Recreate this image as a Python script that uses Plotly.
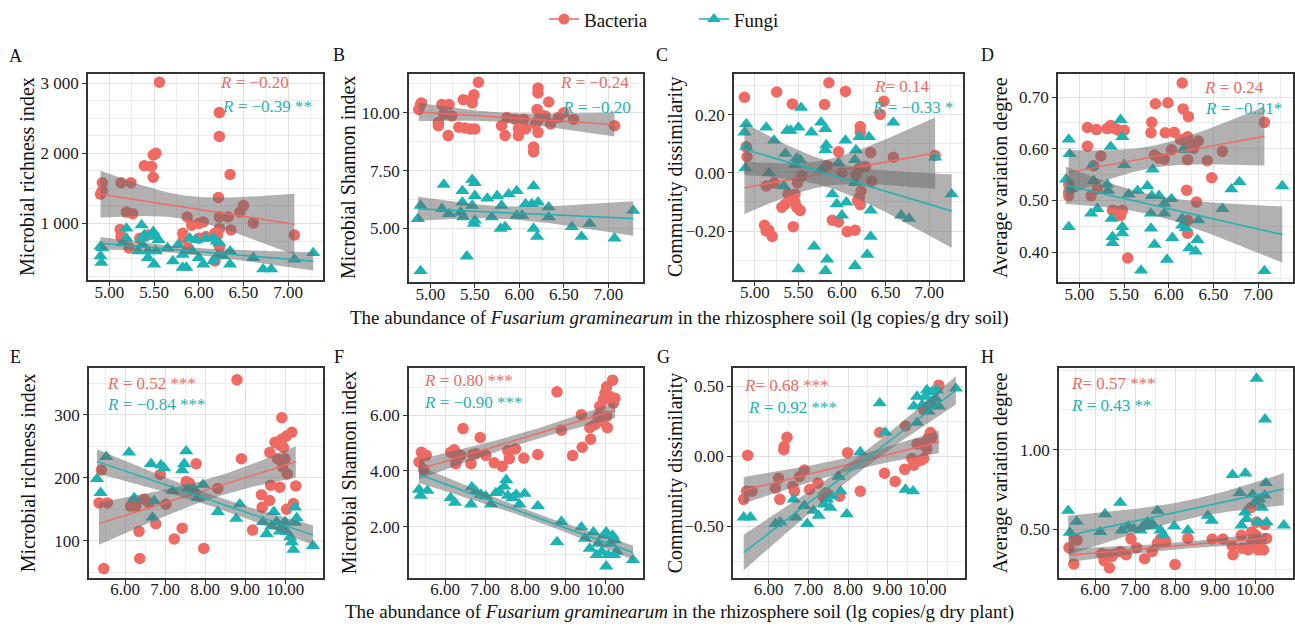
import numpy as np
import plotly.graph_objects as go

W, H = 1295, 628
FONT = "Liberation Serif"
RED = "#EF6A63"
TEAL = "#1DB2B3"

# ---------------- data ----------------
# Panel A: Microbial richness index vs F. graminearum in soil
A_bac_x = [4.90, 4.92, 4.92, 5.13, 5.24, 5.19, 5.26, 5.12, 5.13, 5.22, 5.39, 5.47, 5.49, 5.52, 5.49, 5.56, 5.43, 5.34,
           5.82, 5.83, 5.87, 5.92, 6.00, 6.05, 5.88, 6.00, 6.08, 6.23, 6.23, 6.22, 6.23, 6.23, 6.21, 6.18, 6.23, 6.18,
           6.35, 6.33, 6.36, 6.46, 6.50, 6.61, 7.07]
A_bac_y = [1419, 1465, 1581, 1581, 1581, 1163, 1140, 916, 814, 651, 1823, 1814, 1977, 2000, 1660, 3014, 837, 790,
           860, 790, 1093, 977, 1000, 1023, 651, 790, 814, 2581, 2242, 1372, 1093, 930, 837, 860, 674, 465,
           1698, 1093, 907, 1163, 1256, 1009, 837]
A_fun_x = [4.90, 4.90, 4.91, 4.92, 5.19, 5.19, 5.15, 5.36, 5.39, 5.36, 5.37, 5.32, 5.43, 5.49, 5.50, 5.55, 5.52, 5.50,
           5.43, 5.65, 5.71, 5.77, 5.82, 5.86, 5.82, 5.90, 5.97, 5.93, 6.00, 6.05, 6.08, 6.16, 6.20, 6.23, 6.16, 6.21,
           6.27, 6.35, 6.35, 6.61, 6.72, 6.81, 7.07, 7.28]
A_fun_y = [674, 535, 442, 651, 930, 790, 721, 977, 837, 790, 698, 605, 605, 884, 814, 767, 605, 419,
           512, 651, 465, 698, 558, 372, 372, 790, 767, 605, 512, 419, 790, 790, 744, 721, 465, 535,
           535, 605, 419, 512, 349, 349, 488, 581]

# Panel B: Microbial Shannon index
B_bac_x = [4.87, 4.89, 4.90, 5.09, 5.09, 5.13, 5.21, 5.15, 5.24, 5.20, 5.32, 5.39, 5.45, 5.50, 5.37, 5.47, 5.49, 5.47,
           5.54, 5.80, 5.84, 5.86, 5.95, 5.99, 5.99, 6.05, 6.07, 6.21, 6.21, 6.20, 6.18, 6.21, 6.23, 6.21, 6.16, 6.16,
           6.29, 6.35, 6.33, 6.44, 6.50, 6.61, 7.07]
B_bac_y = [10.14, 10.35, 10.42, 9.44, 9.58, 10.35, 10.35, 9.93, 9.86, 9.01, 9.37, 9.34, 9.30, 9.30, 10.56, 10.61, 10.77, 10.42,
           11.31, 9.44, 9.01, 9.79, 9.72, 9.30, 9.01, 9.72, 9.30, 11.06, 10.85, 10.14, 9.51, 9.65, 9.93, 9.15, 8.52, 8.31,
           9.86, 9.51, 10.46, 9.79, 10.00, 9.72, 9.44]
B_fun_x = [4.89, 4.86, 4.89, 5.15, 5.13, 5.21, 5.36, 5.36, 5.34, 5.37, 5.41, 5.47, 5.50, 5.50, 5.47, 5.49, 5.50, 5.64,
           5.69, 5.75, 5.80, 5.79, 5.84, 5.88, 5.97, 5.97, 6.03, 6.07, 6.16, 6.14, 6.21, 6.16, 6.20, 6.33, 6.33, 6.59,
           6.70, 6.79, 7.07, 7.28]
B_fun_y = [5.99, 5.42, 3.17, 6.90, 5.85, 5.63, 6.62, 6.13, 5.70, 5.49, 3.80, 7.11, 6.97, 6.41, 5.99, 5.21, 5.35, 6.30,
           5.49, 6.41, 5.99, 5.00, 5.07, 6.48, 6.62, 5.56, 5.56, 6.06, 6.83, 6.06, 6.13, 5.00, 4.65, 5.92, 5.49, 5.07,
           4.65, 5.21, 4.58, 5.77]

# Panel C: Community dissimilarity
C_bac_x = [4.88, 4.90, 4.91, 5.13, 5.22, 5.11, 5.13, 5.16, 5.20, 5.25, 5.31, 5.35, 5.38, 5.46, 5.46, 5.48, 5.52, 5.49,
           5.54, 5.43, 5.44, 5.80, 5.85, 5.83, 5.89, 5.96, 5.96, 6.00, 6.04, 6.06, 6.15, 6.16, 6.20, 6.21, 6.21, 6.22,
           6.18, 6.21, 6.20, 6.27, 6.33, 6.34, 6.44, 6.48, 6.59, 7.07]
C_bac_y = [0.261, 0.090, 0.056, -0.045, -0.034, -0.180, -0.200, -0.197, -0.219, 0.279, -0.118, -0.107, -0.073, -0.073,
           -0.101, -0.118, -0.129, -0.034, -0.009, 0.238, -0.185, 0.236, 0.311, 0.025, -0.163, -0.169, 0.073, 0.000,
           0.281, -0.202, -0.197, -0.006, 0.017, 0.160, 0.140, -0.062, -0.096, -0.109, -0.084, 0.022, 0.070, -0.028,
           0.202, 0.247, 0.054, 0.060]
C_fun_x = [4.90, 4.88, 4.90, 4.89, 5.13, 5.16, 5.22, 5.33, 5.35, 5.37, 5.41, 5.50, 5.53, 5.48, 5.52, 5.46, 5.50, 5.65,
           5.68, 5.76, 5.81, 5.82, 5.81, 5.81, 5.83, 5.76, 5.89, 5.96, 5.94, 6.00, 6.04, 6.05, 6.15, 6.16, 6.15, 6.15,
           6.20, 6.31, 6.33, 6.33, 6.29, 6.59, 6.68, 6.77, 7.07, 7.26]
C_fun_y = [0.169, 0.140, 0.090, 0.017, 0.157, 0.000, 0.112, -0.045, 0.067, 0.146, 0.146, 0.157, 0.225, 0.051, 0.045,
           0.028, -0.331, 0.140, -0.253, 0.174, 0.152, 0.096, 0.079, -0.337, -0.298, 0.011, -0.073, 0.034, -0.107,
           -0.146, 0.112, -0.101, 0.045, 0.079, -0.034, -0.320, 0.124, 0.124, -0.129, -0.219, -0.281, 0.174, -0.146,
           -0.157, 0.054, -0.073]

# Panel D: Average variation degree
D_bac_x = [4.88, 4.88, 4.88, 5.09, 5.09, 5.13, 5.16, 5.19, 5.24, 5.20, 5.31, 5.35, 5.40, 5.44, 5.50, 5.37, 5.42, 5.46,
           5.48, 5.54, 5.80, 5.81, 5.85, 5.84, 5.89, 5.95, 5.96, 5.99, 6.03, 6.06, 6.15, 6.16, 6.22, 6.13, 6.19, 6.21,
           6.23, 6.21, 6.20, 6.21, 6.21, 6.28, 6.33, 6.31, 6.43, 6.48, 6.60, 7.07]
D_bac_y = [0.531, 0.516, 0.509, 0.641, 0.605, 0.509, 0.567, 0.637, 0.586, 0.523, 0.639, 0.645, 0.639, 0.636, 0.636,
           0.481, 0.479, 0.471, 0.481, 0.389, 0.631, 0.651, 0.687, 0.588, 0.582, 0.580, 0.631, 0.689, 0.598, 0.632,
           0.727, 0.677, 0.662, 0.618, 0.617, 0.623, 0.610, 0.579, 0.520, 0.462, 0.437, 0.601, 0.615, 0.497, 0.577,
           0.544, 0.595, 0.651]
D_fun_x = [4.88, 4.89, 4.85, 4.88, 4.90, 5.13, 5.14, 5.16, 5.20, 5.31, 5.32, 5.35, 5.36, 5.37, 5.37, 5.46, 5.48, 5.50,
           5.48, 5.48, 5.55, 5.65, 5.69, 5.76, 5.82, 5.80, 5.80, 5.84, 5.81, 5.89, 5.95, 5.95, 5.98, 6.03, 6.04, 6.15,
           6.16, 6.15, 6.19, 6.23, 6.30, 6.32, 6.33, 6.60, 6.70, 6.79, 7.07, 7.27]
D_fun_y = [0.618, 0.590, 0.541, 0.449, 0.522, 0.475, 0.566, 0.538, 0.484, 0.531, 0.519, 0.604, 0.465, 0.430, 0.418,
           0.656, 0.623, 0.569, 0.449, 0.437, 0.512, 0.519, 0.365, 0.528, 0.560, 0.475, 0.446, 0.415, 0.509, 0.509,
           0.494, 0.475, 0.386, 0.503, 0.428, 0.465, 0.598, 0.452, 0.447, 0.408, 0.402, 0.424, 0.462, 0.484, 0.522,
           0.536, 0.364, 0.528]

# Panel E: Microbial richness index vs F. graminearum in plant
E_bac_x = [5.35, 5.41, 5.56, 5.47, 6.14, 6.27, 6.35, 6.37, 6.48, 6.60, 6.77, 6.88, 7.02, 7.23, 7.43, 7.53, 7.61, 7.78,
           7.97, 8.32, 8.80, 8.91, 9.19, 9.41, 9.43, 9.62, 9.64, 9.61, 9.75, 9.87, 9.81, 9.92, 9.92, 9.87, 10.00, 9.94,
           10.04, 10.06, 10.04, 10.17, 10.21, 10.27, 9.96]
E_bac_y = [160, 212, 160, 56, 155, 155, 115, 72, 166, 160, 127, 205, 158, 103, 120, 194, 191, 222,
           88, 183, 355, 230, 117, 173, 153, 240, 188, 164, 256, 252, 230, 295, 261, 185, 230, 217,
           266, 206, 150, 272, 159, 187, 248]
E_fun_x = [5.30, 5.39, 5.53, 6.10, 6.23, 6.65, 6.69, 6.73, 6.90, 6.98, 7.19, 7.43, 7.53, 7.48, 7.57, 7.74, 7.82, 7.95,
           8.32, 8.78, 8.87, 9.45, 9.54, 9.66, 9.72, 9.79, 9.87, 9.92, 10.00, 10.04, 10.13, 10.17, 10.21, 10.25, 10.29,
           10.25, 10.70]
E_fun_y = [198, 176, 233, 240, 168, 222, 137, 163, 220, 215, 179, 212, 242, 222, 183, 181, 168, 189,
           146, 135, 158, 130, 111, 123, 146, 130, 115, 123, 130, 114, 106, 98, 86, 129, 136,
           153, 92]

# Panel F: Microbial Shannon index
F_bac_x = [5.35, 5.41, 5.53, 5.47, 6.14, 6.23, 6.27, 6.31, 6.39, 6.45, 6.65, 6.69, 6.77, 6.88, 7.02, 7.23, 7.43, 7.57,
           7.61, 7.76, 7.97, 8.32, 8.80, 8.91, 9.19, 9.41, 9.43, 9.62, 9.64, 9.75, 9.83, 9.87, 9.96, 10.00, 10.04, 10.04,
           10.06, 10.13, 10.19, 10.25, 10.21, 9.94]
F_bac_y = [4.32, 4.67, 4.56, 4.05, 4.67, 4.76, 4.26, 4.44, 4.56, 5.52, 4.26, 4.59, 4.62, 5.20, 4.56, 4.29, 4.17, 4.73,
           4.44, 4.79, 4.46, 4.59, 6.84, 5.46, 4.55, 6.02, 4.85, 5.55, 5.14, 5.67, 5.96, 6.32, 6.55, 6.79, 7.02, 5.96,
           5.55, 6.67, 7.26, 6.61, 6.43, 5.79]
F_fun_x = [5.35, 5.39, 5.56, 6.14, 6.25, 6.65, 6.67, 6.77, 6.90, 7.02, 7.15, 7.27, 7.36, 7.48, 7.53, 7.57, 7.69, 7.78,
           7.86, 7.99, 8.32, 8.80, 8.91, 9.41, 9.50, 9.62, 9.71, 9.79, 9.83, 9.92, 9.97, 10.03, 10.03, 10.08, 10.13,
           10.19, 10.23, 10.25, 10.29, 10.70]
F_fun_y = [3.33, 3.11, 3.29, 3.03, 2.86, 2.80, 3.42, 3.27, 3.15, 3.09, 2.80, 3.21, 3.27, 3.44, 3.68, 3.11, 3.03, 3.15,
           2.80, 3.18, 2.74, 1.45, 2.18, 1.98, 1.57, 1.21, 1.80, 0.98, 1.39, 1.10, 1.68, 1.80, 0.57, 0.98, 1.39,
           1.68, 0.98, 1.51, 1.10, 0.80]

# Panel G: Community dissimilarity
G_bac_x = [5.37, 5.44, 5.47, 5.58, 6.17, 6.25, 6.28, 6.38, 6.39, 6.46, 6.61, 6.65, 6.78, 6.90, 7.03, 7.24, 7.37, 7.45,
           7.79, 7.99, 8.31, 8.80, 8.92, 9.19, 9.43, 9.45, 9.61, 9.66, 9.68, 9.74, 9.84, 9.91, 9.87, 9.95, 9.99, 10.03,
           10.08, 10.12, 9.91, 10.29]
G_bac_y = [-0.307, -0.249, 0.007, -0.249, -0.226, -0.156, -0.307, 0.047, 0.070, 0.135, -0.214, -0.249, -0.144, -0.098,
           -0.237, -0.191, -0.284, -0.260, -0.284, 0.026, -0.249, 0.170, -0.121, -0.179, -0.093, 0.216, -0.016, -0.063,
           -0.040, 0.088, -0.028, -0.016, 0.088, 0.077, 0.053, 0.135, 0.170, 0.135, 0.333, 0.507]
G_fun_x = [5.37, 5.54, 6.17, 6.29, 6.63, 6.68, 6.90, 6.97, 7.13, 7.26, 7.39, 7.47, 7.55, 7.60, 7.76, 7.81, 7.97, 8.31,
           8.80, 8.94, 9.45, 9.64, 9.66, 9.74, 9.74, 9.87, 9.95, 9.99, 10.03, 10.08, 10.12, 10.16, 10.20, 10.24, 10.29,
           10.72]
G_fun_y = [-0.435, -0.435, -0.481, -0.470, -0.307, -0.435, -0.353, -0.481, -0.388, -0.423, -0.342, -0.307, -0.365,
           -0.284, -0.144, -0.249, -0.412, 0.030, 0.379, 0.170, -0.237, -0.249, 0.356, 0.240, 0.426, 0.367, 0.426,
           0.472, 0.321, 0.391, 0.460, 0.367, 0.414, 0.472, 0.356, 0.484]

# Panel H: Average variation degree
H_bac_x = [5.35, 5.47, 5.49, 5.55, 6.17, 6.23, 6.29, 6.36, 6.42, 6.46, 6.63, 6.78, 6.90, 7.04, 7.24, 7.43, 7.56, 7.64,
           7.77, 8.00, 8.32, 8.93, 9.20, 9.43, 9.45, 9.66, 9.68, 9.79, 9.83, 9.92, 9.98, 10.02, 10.08, 10.13, 10.21,
           10.25, 10.29, 9.90, 9.92, 10.04]
H_bac_y = [0.385, 0.283, 0.443, 0.432, 0.346, 0.303, 0.340, 0.258, 0.330, 0.344, 0.361, 0.340, 0.439, 0.385, 0.316,
           0.361, 0.412, 0.439, 0.422, 0.279, 0.443, 0.439, 0.439, 0.395, 0.340, 0.463, 0.381, 0.381, 0.371, 0.422,
           0.412, 0.463, 0.371, 0.412, 0.371, 0.529, 0.443, 0.637, 0.484, 0.545]
H_fun_x = [5.33, 5.37, 5.54, 6.13, 6.25, 6.63, 6.67, 6.83, 6.97, 7.14, 7.20, 7.31, 7.43, 7.56, 7.47, 7.64, 7.71, 7.98,
           8.32, 8.82, 8.92, 9.44, 9.62, 9.76, 9.66, 9.75, 9.79, 9.94, 10.00, 10.04, 10.07, 10.11, 10.17, 10.24, 10.27,
           10.25, 10.29, 10.72]
H_fun_y = [0.617, 0.480, 0.549, 0.484, 0.596, 0.668, 0.494, 0.520, 0.504, 0.494, 0.520, 0.545, 0.535, 0.617, 0.520,
           0.494, 0.463, 0.520, 0.494, 0.586, 0.555, 0.842, 0.729, 0.852, 0.525, 0.607, 0.566, 0.719, 0.668, 1.447,
           0.545, 0.689, 0.637, 0.713, 0.791, 1.191, 0.545, 0.525]

# correlation labels
R_bac = ["= −0.20", "= −0.24", "= 0.14", "= 0.24", "= 0.52 ***", "= 0.80 ***", "= 0.68 ***", "= 0.57 ***"]
R_fun = ["= −0.39 **", "= −0.20", "= −0.33 *", "= −0.31*", "= −0.84 ***", "= −0.90 ***", "= 0.92 ***", "= 0.43 **"]
R_bac_sep = [" ", " ", "", " ", " ", " ", "", ""]

# axis ticks
x_top_ticks = [5.0, 5.5, 6.0, 6.5, 7.0]
x_bot_ticks = [6.0, 7.0, 8.0, 9.0, 10.0]
yA_ticks, yA_text = [1000, 2000, 3000], ["1 000", "2 000", "3 000"]
yB_ticks, yB_text = [5.0, 7.5, 10.0], ["5.00", "7.50", "10.00"]
yC_ticks, yC_text = [-0.2, 0.0, 0.2], ["−0.20", "0.00", "0.20"]
yD_ticks, yD_text = [0.4, 0.5, 0.6, 0.7], ["0.40", "0.50", "0.60", "0.70"]
yE_ticks, yE_text = [100, 200, 300], ["100", "200", "300"]
yF_ticks, yF_text = [2.0, 4.0, 6.0], ["2.00", "4.00", "6.00"]
yG_ticks, yG_text = [-0.5, 0.0, 0.5], ["−0.50", "0.00", "0.50"]
yH_ticks, yH_text = [0.5, 1.0], ["0.50", "1.00"]

y_titles = ["Microbial richness index", "Microbial Shannon index", "Community dissimilarity",
            "Average variation degree"] * 2
letters = ["A", "B", "C", "D", "E", "F", "G", "H"]
x_title_top = "The abundance of <i>Fusarium graminearum</i> in the rhizosphere soil (lg copies/g dry soil)"
x_title_bot = "The abundance of <i>Fusarium graminearum</i> in the rhizosphere soil (lg copies/g dry plant)"

# ---------------- layout geometry (window pixels) ----------------
panels = [
    dict(x=(88, 323), y=(62, 273), xr=(4.76, 7.39), yr=(190, 3135), yt=(yA_ticks, yA_text), ym=250,
         bac=(A_bac_x, A_bac_y), fun=(A_fun_x, A_fun_y), ytx=27, lab=(15, 44), rb=(218, 71), rf=(220, 95)),
    dict(x=(409, 643), y=(62, 275), xr=(4.76, 7.39), yr=(2.68, 11.68), yt=(yB_ticks, yB_text), ym=1.25,
         bac=(B_bac_x, B_bac_y), fun=(B_fun_x, B_fun_y), ytx=348, lab=(339, 43), rb=(558, 71), rf=(560, 96)),
    dict(x=(734, 963), y=(62, 273), xr=(4.76, 7.39), yr=(-0.37, 0.342), yt=(yC_ticks, yC_text), ym=0.1,
         bac=(C_bac_x, C_bac_y), fun=(C_fun_x, C_fun_y), ytx=675, lab=(662, 43), rb=(872, 75), rf=(870, 96)),
    dict(x=(1058, 1293), y=(62, 275), xr=(4.76, 7.39), yr=(0.342, 0.745), yt=(yD_ticks, yD_text), ym=0.05,
         bac=(D_bac_x, D_bac_y), fun=(D_fun_x, D_fun_y), ytx=1000, lab=(987, 43), rb=(1202, 76), rf=(1203, 98)),
    dict(x=(89, 323), y=(363, 577), xr=(5.1, 10.95), yr=(41, 373), yt=(yE_ticks, yE_text), ym=50,
         bac=(E_bac_x, E_bac_y), fun=(E_fun_x, E_fun_y), ytx=28, lab=(15, 351), rb=(105, 378), rf=(105, 400)),
    dict(x=(409, 643), y=(363, 577), xr=(5.1, 10.95), yr=(0.15, 7.68), yt=(yF_ticks, yF_text), ym=1.0,
         bac=(F_bac_x, F_bac_y), fun=(F_fun_x, F_fun_y), ytx=349, lab=(339, 351), rb=(422, 375), rf=(422, 398)),
    dict(x=(733, 965), y=(363, 577), xr=(5.1, 10.95), yr=(-0.868, 0.626), yt=(yG_ticks, yG_text), ym=0.25,
         bac=(G_bac_x, G_bac_y), fun=(G_fun_x, G_fun_y), ytx=675, lab=(663, 351), rb=(742, 380), rf=(746, 403)),
    dict(x=(1059, 1293), y=(363, 577), xr=(5.1, 10.95), yr=(0.194, 1.51), yt=(yH_ticks, yH_text), ym=0.25,
         bac=(H_bac_x, H_bac_y), fun=(H_fun_x, H_fun_y), ytx=1000, lab=(987, 351), rb=(1069, 378), rf=(1069, 401)),
]


def px(x):
    return x / W


def py(y):
    return 1 - y / H


def tval(df):
    return 1.96 + 2.37 / df + 2.8 / df ** 2


def lm_band(xs, ys, n=80):
    x = np.asarray(xs, float)
    y = np.asarray(ys, float)
    b, a = np.polyfit(x, y, 1)
    res = y - (a + b * x)
    df = len(x) - 2
    s = np.sqrt(np.sum(res ** 2) / df)
    xm = x.mean()
    sxx = np.sum((x - xm) ** 2)
    xg = np.linspace(x.min(), x.max(), n)
    yg = a + b * xg
    se = s * np.sqrt(1 / len(x) + (xg - xm) ** 2 / sxx)
    t = tval(df)
    return xg, yg, yg - t * se, yg + t * se


fig = go.Figure()
annotations = []
BAND = "rgba(105,105,105,0.52)"

for i, p in enumerate(panels):
    k = "" if i == 0 else str(i + 1)
    xa, ya = "x" + k, "y" + k
    fig.add_trace(go.Scatter(x=p["bac"][0], y=p["bac"][1], mode="markers", xaxis=xa, yaxis=ya,
                             marker=dict(symbol="circle", size=11.5, color=RED), showlegend=False,
                             hoverinfo="skip"))
    fig.add_trace(go.Scatter(x=p["fun"][0], y=p["fun"][1], mode="markers", xaxis=xa, yaxis=ya,
                             marker=dict(symbol="triangle-up", size=12.5, color=TEAL), showlegend=False,
                             hoverinfo="skip"))
    for (xs, ys), col in ((p["bac"], RED), (p["fun"], TEAL)):
        xg, yg, lo, hi = lm_band(xs, ys)
        fig.add_trace(go.Scatter(x=np.concatenate([xg, xg[::-1]]), y=np.concatenate([hi, lo[::-1]]),
                                 mode="lines", fill="toself", fillcolor=BAND, line=dict(width=0),
                                 xaxis=xa, yaxis=ya, showlegend=False, hoverinfo="skip"))
        fig.add_trace(go.Scatter(x=xg, y=yg, mode="lines", line=dict(color=col, width=1.5),
                                 xaxis=xa, yaxis=ya, showlegend=False, hoverinfo="skip"))

    top = i < 4
    xt = x_top_ticks if top else x_bot_ticks
    xminor = 0.25 if top else 0.5
    xr = p["xr"]
    xmin_vals = [v for v in np.arange(np.floor(xr[0]), xr[1] + 1e-9, xminor) if xr[0] <= v <= xr[1]]
    yr = p["yr"]
    ym = p["ym"]
    ymin_vals = [v for v in np.arange(np.floor(yr[0] / ym) * ym, yr[1] + 1e-9, ym) if yr[0] <= v <= yr[1]]

    common = dict(showline=True, mirror=True, linecolor="#333333", linewidth=1.6,
                  ticks="outside", ticklen=4, tickcolor="#333333", tickwidth=1,
                  showgrid=True, gridcolor="#E1E1E1", gridwidth=1, zeroline=False,
                  tickfont=dict(family=FONT, size=17, color="#1a1a1a"))
    fig.layout["xaxis" + k] = dict(
        domain=[px(p["x"][0]), px(p["x"][1])], anchor=ya, range=list(xr),
        tickmode="array", tickvals=xt, ticktext=["%.2f" % v for v in xt],
        ticklabelstandoff=-9,
        minor=dict(tickmode="array", tickvals=xmin_vals, showgrid=True, gridcolor="#ECECEC", gridwidth=0.8,
                   ticks=""),
        **common)
    fig.layout["yaxis" + k] = dict(
        domain=[py(p["y"][1]), py(p["y"][0])], anchor=xa, range=list(yr),
        tickmode="array", tickvals=p["yt"][0], ticktext=p["yt"][1],
        minor=dict(tickmode="array", tickvals=ymin_vals, showgrid=True, gridcolor="#ECECEC", gridwidth=0.8,
                   ticks=""),
        **common)

    cy = (p["y"][0] + p["y"][1]) / 2
    annotations.append(dict(text=y_titles[i], x=px(p["ytx"]), y=py(cy), xref="paper", yref="paper",
                            textangle=-90, showarrow=False, xanchor="center", yanchor="middle",
                            font=dict(family=FONT, size=20, color="#111111")))
    annotations.append(dict(text=letters[i], x=px(p["lab"][0]), y=py(p["lab"][1]), xref="paper", yref="paper",
                            showarrow=False, xanchor="center", yanchor="middle",
                            font=dict(family=FONT, size=18, color="#111111")))
    annotations.append(dict(text="<i>R</i>" + R_bac_sep[i] + R_bac[i], x=px(p["rb"][0]), y=py(p["rb"][1]),
                            xref="paper", yref="paper", showarrow=False, xanchor="left", yanchor="middle",
                            font=dict(family=FONT, size=17, color=RED)))
    annotations.append(dict(text="<i>R</i> " + R_fun[i], x=px(p["rf"][0]), y=py(p["rf"][1]),
                            xref="paper", yref="paper", showarrow=False, xanchor="left", yanchor="middle",
                            font=dict(family=FONT, size=17, color=TEAL)))

annotations.append(dict(text=x_title_top, x=px(680), y=py(311), xref="paper", yref="paper", showarrow=False,
                        xanchor="center", yanchor="middle", font=dict(family=FONT, size=19, color="#111111")))
annotations.append(dict(text=x_title_bot, x=px(680), y=py(612), xref="paper", yref="paper", showarrow=False,
                        xanchor="center", yanchor="middle", font=dict(family=FONT, size=19, color="#111111")))

fig.add_trace(go.Scatter(x=[None], y=[None], mode="lines+markers", name="Bacteria", legend="legend",
                         line=dict(color=RED, width=1.5), marker=dict(symbol="circle", size=11, color=RED)))
fig.add_trace(go.Scatter(x=[None], y=[None], mode="lines+markers", name="Fungi", legend="legend2",
                         line=dict(color=TEAL, width=1.5), marker=dict(symbol="triangle-up", size=12, color=TEAL)))

leg_common = dict(orientation="h", y=py(-13), xanchor="left", yanchor="top",
                  font=dict(family=FONT, size=19, color="#111111"), itemwidth=30,
                  bgcolor="rgba(0,0,0,0)")
fig.update_layout(
    width=W, height=H, margin=dict(l=0, r=0, t=0, b=0),
    paper_bgcolor="white", plot_bgcolor="white",
    annotations=annotations,
    legend=dict(x=px(544), **leg_common),
    legend2=dict(x=px(694), **leg_common),
    showlegend=True,
)

fig.write_html("out.html", config={"displayModeBar": False},
               post_script="document.body.style.margin='0';document.body.style.padding='0';"
                           "document.body.style.overflow='hidden';")
